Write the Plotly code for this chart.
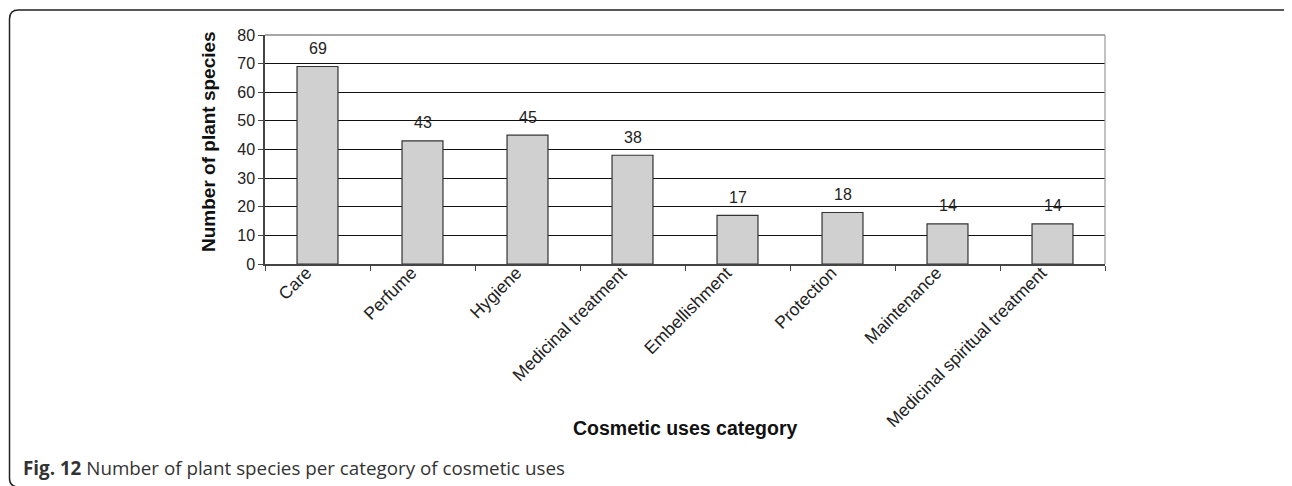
import plotly.graph_objects as go

categories = ["Care", "Perfume", "Hygiene", "Medicinal treatment", "Embellishment",
              "Protection", "Maintenance", "Medicinal spiritual treatment"]
values = [69, 43, 45, 38, 17, 18, 14, 14]
y_ticks = [0, 10, 20, 30, 40, 50, 60, 70, 80]

OFF = 8                      # page body margin of the html page
SW, SH = 1292, 486           # screen size
W, H = SW - OFF, SH - OFF    # figure size
L, R, T, B = 265, 1105, 35, 264  # plot area in screen pixels

def px(x):
    return (x - L) / (R - L)

def py(y):
    return (B - y) / (B - T)

fig = go.Figure()
fig.add_trace(go.Bar(
    x=categories, y=values,
    marker=dict(color="#d0d0d0", line=dict(color="#333333", width=1.2)),
    width=0.39,
    hoverinfo="x+y",
))

annotations = []
for c, v in zip(categories, values):
    annotations.append(dict(x=c, y=v, text=str(v), showarrow=False, yshift=18,
                            font=dict(family="Liberation Sans", size=16, color="#222")))

annotations.append(dict(xref="paper", yref="paper", x=px(685), y=py(428),
                        text="<b>Cosmetic uses category</b>", showarrow=False,
                        xanchor="center", yanchor="middle",
                        font=dict(family="Liberation Sans", size=19.5, color="#111")))
annotations.append(dict(xref="paper", yref="paper", x=px(208), y=py(142),
                        text="<b>Number of plant species</b>", showarrow=False,
                        textangle=-90, xanchor="center", yanchor="middle",
                        font=dict(family="Liberation Sans", size=19, color="#111")))
annotations.append(dict(xref="paper", yref="paper", x=px(21), y=py(468),
                        text="<b>Fig. 12</b> Number of plant species per category of cosmetic uses",
                        showarrow=False, xanchor="left", yanchor="middle",
                        font=dict(family="Open Sans", size=18.8, color="#333")))

# rounded frame around the figure (screen coords)
x0, x1, y0, y1, r = 9.5, 1296, 10, 487, 9
rx, ry = r / (R - L), r / (B - T)
path = (f"M {px(x0)},{py(y0) - ry} "
        f"Q {px(x0)},{py(y0)} {px(x0)+rx},{py(y0)} "
        f"L {px(x1)-rx},{py(y0)} "
        f"Q {px(x1)},{py(y0)} {px(x1)},{py(y0)-ry} "
        f"L {px(x1)},{py(y1)+ry} "
        f"Q {px(x1)},{py(y1)} {px(x1)-rx},{py(y1)} "
        f"L {px(x0)+rx},{py(y1)} "
        f"Q {px(x0)},{py(y1)} {px(x0)},{py(y1)+ry} Z")

shapes = [
    dict(type="path", xref="paper", yref="paper", path=path,
         line=dict(color="#222", width=1.5), layer="below"),
    dict(type="line", xref="paper", yref="paper", x0=0, x1=1, y0=1, y1=1,
         line=dict(color="#888", width=1.5), layer="above"),
    dict(type="line", xref="paper", yref="paper", x0=1, x1=1, y0=0, y1=1,
         line=dict(color="#999", width=1.2), layer="above"),
]

fig.update_layout(
    width=W, height=H,
    margin=dict(l=L - OFF, r=W - (R - OFF), t=T - OFF, b=H - (B - OFF), pad=0),
    paper_bgcolor="white", plot_bgcolor="white",
    showlegend=False,
    annotations=annotations,
    shapes=shapes,
    font=dict(family="Liberation Sans", size=16, color="#222"),
    xaxis=dict(
        type="category", tickangle=-45, tickson="boundaries",
        ticks="outside", ticklen=5, tickcolor="#444",
        showline=True, linecolor="#444", linewidth=1.5,
        showgrid=False,
        ticklabelshift=-11, ticklabelstandoff=-10,
        tickfont=dict(family="Liberation Sans", size=17.5, color="#222"),
    ),
    yaxis=dict(
        range=[0, 80], tickvals=y_ticks, ticks="outside", ticklen=5, tickcolor="#444",
        showline=True, linecolor="#444", linewidth=1.5,
        showgrid=True, gridcolor="#111", gridwidth=1,
        zeroline=False,
        tickfont=dict(family="Liberation Sans", size=16, color="#222"),
    ),
)

fig.write_html("out.html")
